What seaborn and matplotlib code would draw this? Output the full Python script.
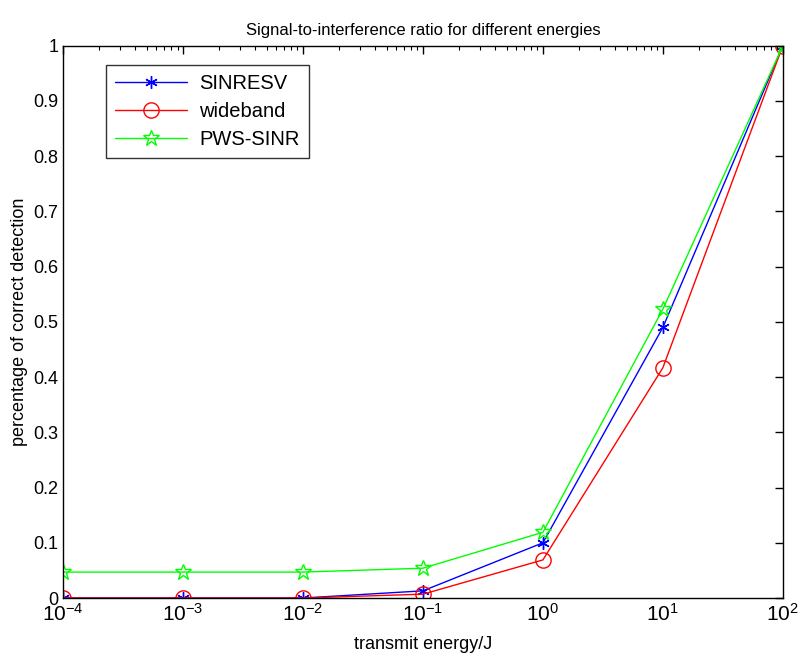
import numpy as np
import pandas as pd
import matplotlib
matplotlib.use("Agg")
import matplotlib.pyplot as plt
import seaborn as sns


# DATA

energy = [1e-4, 1e-3, 1e-2, 1e-1, 1e0, 1e1, 1e2]

sinresv = [0.0, 0.0, 0.0, 0.013, 0.100, 0.490, 1.0]
wideband = [0.0, 0.0, 0.0, 0.007, 0.069, 0.417, 1.0]
pws_sinr = [0.047, 0.047, 0.047, 0.054, 0.119, 0.523, 1.0]

series_names = ['SINRESV', 'wideband', 'PWS-SINR']
series_values = [sinresv, wideband, pws_sinr]
series_colors = ['#0000ff', '#ff0000', '#00ff00']
series_markers = [(6, 2, 0), 'o', '*']
series_sizes = [9, 11, 12]

x_ticks = [1e-4, 1e-3, 1e-2, 1e-1, 1e0, 1e1, 1e2]
x_tick_labels = ['$10^{-4}$', '$10^{-3}$', '$10^{-2}$', '$10^{-1}$',
                 '$10^{0}$', '$10^{1}$', '$10^{2}$']
y_ticks = [0, 0.1, 0.2, 0.3, 0.4, 0.5, 0.6, 0.7, 0.8, 0.9, 1]
y_tick_labels = ['0', '0.1', '0.2', '0.3', '0.4', '0.5', '0.6',
                 '0.7', '0.8', '0.9', '1']


sns.set_style('white')
plt.rcParams['font.family'] = ['Liberation Sans', 'DejaVu Sans']
plt.rcParams['mathtext.fontset'] = 'custom'
plt.rcParams['mathtext.rm'] = 'Liberation Sans'
plt.rcParams['mathtext.it'] = 'Liberation Sans'
plt.rcParams['text.color'] = 'black'
plt.rcParams['axes.labelcolor'] = 'black'
plt.rcParams['xtick.color'] = 'black'
plt.rcParams['ytick.color'] = 'black'

fig = plt.figure(figsize=(7.98, 6.63), dpi=100)
ax = fig.add_axes([0.079, 0.098, 0.902, 0.833])

for name, vals, col, mk, ms in zip(series_names, series_values,
                                   series_colors, series_markers,
                                   series_sizes):
    df = pd.DataFrame({'energy': energy, 'value': vals})
    sns.lineplot(
        data=df, x='energy', y='value', ax=ax,
        color=col, marker=mk, markersize=ms,
        mfc='none', mec=col, markeredgewidth=1.0,
        linewidth=1.0, label=name
    )

ax.set_xscale('log')
ax.set_xlim(1e-4, 1e2)
ax.set_ylim(0, 1)

ax.set_xticks(x_ticks)
ax.set_xticklabels(x_tick_labels, fontsize=15)
ax.set_yticks(y_ticks)
ax.set_yticklabels(y_tick_labels, fontsize=13)

ax.tick_params(which='both', direction='in', top=True, right=True,
               color='black')
ax.tick_params(which='major', length=6, width=1)
ax.tick_params(which='minor', length=3, width=0.8)
ax.xaxis.set_minor_locator(matplotlib.ticker.LogLocator(base=10, subs=np.arange(2, 10)))
ax.xaxis.set_minor_formatter(matplotlib.ticker.NullFormatter())

for s in ax.spines.values():
    s.set_color('black')
    s.set_linewidth(1.0)

ax.set_title('Signal-to-interference ratio for different energies',
             fontsize=12, pad=8)
ax.set_xlabel('transmit energy/J', fontsize=13, labelpad=8)
ax.set_ylabel('percentage of correct detection', fontsize=13, labelpad=4)

leg = ax.legend(loc='upper left', bbox_to_anchor=(0.045, 0.983),
                fontsize=14.5, frameon=True, fancybox=False,
                handlelength=3.6, borderpad=0.45, labelspacing=0.45,
                handletextpad=0.6)
leg.get_frame().set_edgecolor('black')
leg.get_frame().set_linewidth(1.0)

fig.savefig('out.png', dpi=100, facecolor='white')
